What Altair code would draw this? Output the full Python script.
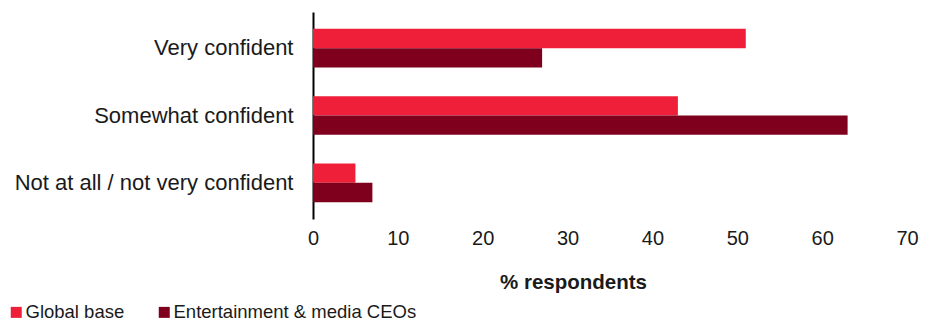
import altair as alt
import pandas as pd

categories = ["Very confident", "Somewhat confident", "Not at all / not very confident"]
series = ["Global base", "Entertainment & media CEOs"]
global_base = [51, 43, 5]
em_ceos = [27, 63, 7]
colors = ["#EF1F3A", "#7F001C"]
x_ticks = [0, 10, 20, 30, 40, 50, 60, 70]

rows = []
for c, g, e in zip(categories, global_base, em_ceos):
    rows.append({"category": c, "series": series[0], "value": g})
    rows.append({"category": c, "series": series[1], "value": e})
df = pd.DataFrame(rows)

FONT = "Liberation Sans"
TXT = "#1a1a1a"

chart = alt.Chart(df).mark_bar(size=19.4).encode(
    y=alt.Y("category:N", sort=categories,
            scale=alt.Scale(paddingInner=0.4265, paddingOuter=0.251),
            axis=alt.Axis(title=None, ticks=False, domain=True, domainColor="#000000",
                          domainWidth=2, labelFontSize=22, labelFont=FONT, labelColor=TXT,
                          labelPadding=20, grid=False, labelLimit=400)),
    yOffset=alt.YOffset("series:N", sort=series),
    x=alt.X("value:Q", scale=alt.Scale(domain=[0, 70], nice=False),
            axis=alt.Axis(values=x_ticks, title="% respondents", domain=False, ticks=False,
                          grid=False, labelFontSize=20, labelFont=FONT, labelColor=TXT,
                          labelPadding=9, labelFlush=False,
                          titleFontSize=20.5, titleFont=FONT, titleColor=TXT,
                          titleFontWeight="bold", titleX=260, titleY=69,
                          titleAlign="center", titleBaseline="alphabetic")),
    color=alt.Color("series:N", sort=series,
                    scale=alt.Scale(domain=series, range=colors),
                    legend=alt.Legend(title=None, orient="none", direction="horizontal",
                                      legendX=-306, legendY=291, symbolType="square",
                                      symbolSize=121, symbolStrokeWidth=0, labelOffset=0,
                                      columnPadding=30, labelFontSize=18.5, labelFont=FONT,
                                      labelColor=TXT, padding=0, labelLimit=500)),
).properties(
    width=594, height=207,
    background="white",
    autosize=alt.AutoSizeParams(type="none"),
    padding={"left": 313, "top": 12, "right": 27, "bottom": 103},
).configure_view(strokeWidth=0, stroke=None)

chart.save("out.html", embed_options={"renderer": "svg", "actions": False})
